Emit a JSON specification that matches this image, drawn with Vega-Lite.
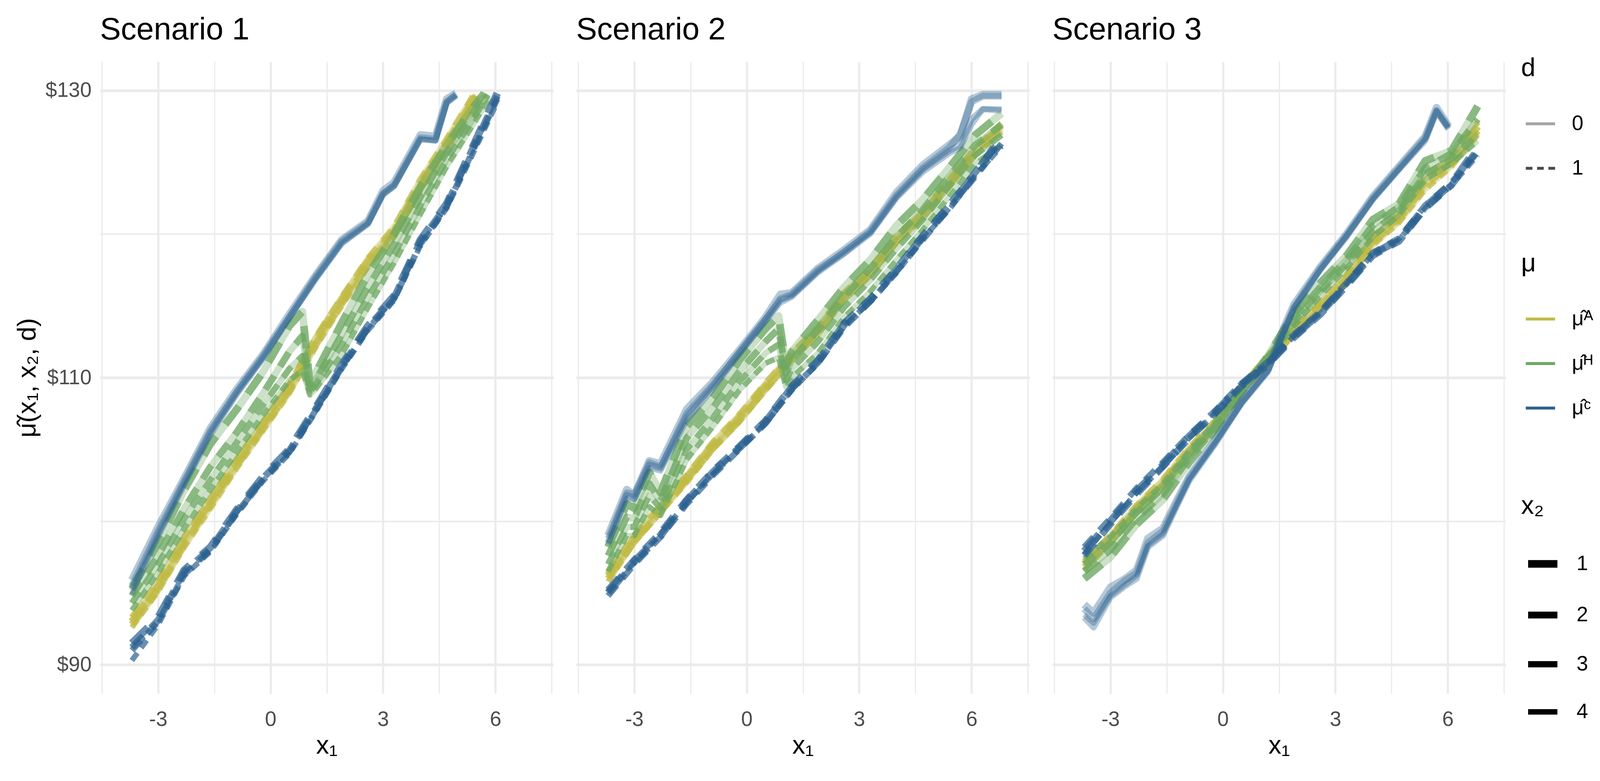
{
"$schema":"https://vega.github.io/schema/vega-lite/v6.json",
"background":"white",
"padding":{"left":37,"top":37,"right":5,"bottom":5},
"datasets":{
"grp":[
{"g":1,"s":1,"m":"A","d":0,"w":1},{"g":2,"s":1,"m":"A","d":0,"w":2},{"g":3,"s":1,"m":"A","d":0,"w":3},{"g":4,"s":1,"m":"A","d":0,"w":4},
{"g":5,"s":1,"m":"A","d":1,"w":1},{"g":6,"s":1,"m":"A","d":1,"w":2},{"g":7,"s":1,"m":"A","d":1,"w":3},{"g":8,"s":1,"m":"A","d":1,"w":4},
{"g":9,"s":1,"m":"H","d":0,"w":1},{"g":10,"s":1,"m":"H","d":0,"w":2},{"g":11,"s":1,"m":"H","d":0,"w":3},{"g":12,"s":1,"m":"H","d":0,"w":4},
{"g":13,"s":1,"m":"H","d":1,"w":1},{"g":14,"s":1,"m":"H","d":1,"w":2},{"g":15,"s":1,"m":"H","d":1,"w":3},{"g":16,"s":1,"m":"H","d":1,"w":4},
{"g":17,"s":1,"m":"C","d":0,"w":1},{"g":18,"s":1,"m":"C","d":0,"w":2},{"g":19,"s":1,"m":"C","d":0,"w":3},{"g":20,"s":1,"m":"C","d":0,"w":4},
{"g":21,"s":1,"m":"C","d":1,"w":1},{"g":22,"s":1,"m":"C","d":1,"w":2},{"g":23,"s":1,"m":"C","d":1,"w":3},{"g":24,"s":1,"m":"C","d":1,"w":4},
{"g":25,"s":2,"m":"A","d":0,"w":1},{"g":26,"s":2,"m":"A","d":0,"w":2},{"g":27,"s":2,"m":"A","d":0,"w":3},{"g":28,"s":2,"m":"A","d":0,"w":4},
{"g":29,"s":2,"m":"A","d":1,"w":1},{"g":30,"s":2,"m":"A","d":1,"w":2},{"g":31,"s":2,"m":"A","d":1,"w":3},{"g":32,"s":2,"m":"A","d":1,"w":4},
{"g":33,"s":2,"m":"H","d":0,"w":1},{"g":34,"s":2,"m":"H","d":0,"w":2},{"g":35,"s":2,"m":"H","d":0,"w":3},{"g":36,"s":2,"m":"H","d":0,"w":4},
{"g":37,"s":2,"m":"H","d":1,"w":1},{"g":38,"s":2,"m":"H","d":1,"w":2},{"g":39,"s":2,"m":"H","d":1,"w":3},{"g":40,"s":2,"m":"H","d":1,"w":4},
{"g":41,"s":2,"m":"C","d":0,"w":1},{"g":42,"s":2,"m":"C","d":0,"w":2},{"g":43,"s":2,"m":"C","d":0,"w":3},{"g":44,"s":2,"m":"C","d":0,"w":4},
{"g":45,"s":2,"m":"C","d":1,"w":1},{"g":46,"s":2,"m":"C","d":1,"w":2},{"g":47,"s":2,"m":"C","d":1,"w":3},{"g":48,"s":2,"m":"C","d":1,"w":4},
{"g":49,"s":3,"m":"A","d":0,"w":1},{"g":50,"s":3,"m":"A","d":0,"w":2},{"g":51,"s":3,"m":"A","d":0,"w":3},{"g":52,"s":3,"m":"A","d":0,"w":4},
{"g":53,"s":3,"m":"A","d":1,"w":1},{"g":54,"s":3,"m":"A","d":1,"w":2},{"g":55,"s":3,"m":"A","d":1,"w":3},{"g":56,"s":3,"m":"A","d":1,"w":4},
{"g":57,"s":3,"m":"H","d":0,"w":1},{"g":58,"s":3,"m":"H","d":0,"w":2},{"g":59,"s":3,"m":"H","d":0,"w":3},{"g":60,"s":3,"m":"H","d":0,"w":4},
{"g":61,"s":3,"m":"H","d":1,"w":1},{"g":62,"s":3,"m":"H","d":1,"w":2},{"g":63,"s":3,"m":"H","d":1,"w":3},{"g":64,"s":3,"m":"H","d":1,"w":4},
{"g":65,"s":3,"m":"C","d":0,"w":1},{"g":66,"s":3,"m":"C","d":0,"w":2},{"g":67,"s":3,"m":"C","d":0,"w":3},{"g":68,"s":3,"m":"C","d":0,"w":4},
{"g":69,"s":3,"m":"C","d":1,"w":1},{"g":70,"s":3,"m":"C","d":1,"w":2},{"g":71,"s":3,"m":"C","d":1,"w":3},{"g":72,"s":3,"m":"C","d":1,"w":4}
],
"pts":[
{"g":1,"x":-3.7,"y":93.0},{"g":1,"x":-3.0,"y":95.5},{"g":1,"x":-2.3,"y":98.7},{"g":1,"x":-1.6,"y":101.4},{"g":1,"x":-0.9,"y":104.1},{"g":1,"x":-0.2,"y":106.7},{"g":1,"x":0.5,"y":109.3},{"g":1,"x":1.2,"y":112.6},{"g":1,"x":1.9,"y":115.4},{"g":1,"x":2.6,"y":118.1},{"g":1,"x":3.3,"y":120.2},{"g":1,"x":4.0,"y":123.5},{"g":1,"x":4.7,"y":126.3},{"g":1,"x":5.4,"y":129.3},{"g":1,"x":5.5,"y":129.7},
{"g":2,"x":-3.7,"y":92.8},{"g":2,"x":-3.0,"y":95.3},{"g":2,"x":-2.3,"y":98.4},{"g":2,"x":-1.6,"y":101.2},{"g":2,"x":-0.9,"y":103.9},{"g":2,"x":-0.2,"y":106.5},{"g":2,"x":0.5,"y":109.1},{"g":2,"x":1.2,"y":112.3},{"g":2,"x":1.9,"y":115.2},{"g":2,"x":2.6,"y":117.9},{"g":2,"x":3.3,"y":120.0},{"g":2,"x":4.0,"y":123.2},{"g":2,"x":4.7,"y":126.1},{"g":2,"x":5.4,"y":129.1},{"g":2,"x":5.5,"y":129.6},
{"g":3,"x":-3.7,"y":93.3},{"g":3,"x":-3.0,"y":95.8},{"g":3,"x":-2.3,"y":98.9},{"g":3,"x":-1.6,"y":101.6},{"g":3,"x":-0.9,"y":104.3},{"g":3,"x":-0.2,"y":106.9},{"g":3,"x":0.5,"y":109.5},{"g":3,"x":1.2,"y":112.8},{"g":3,"x":1.9,"y":115.6},{"g":3,"x":2.6,"y":118.3},{"g":3,"x":3.3,"y":120.5},{"g":3,"x":4.0,"y":123.8},{"g":3,"x":4.7,"y":126.6},{"g":3,"x":5.4,"y":129.6},
{"g":4,"x":-3.7,"y":92.6},{"g":4,"x":-3.0,"y":95.1},{"g":4,"x":-2.3,"y":98.2},{"g":4,"x":-1.6,"y":100.9},{"g":4,"x":-0.9,"y":103.7},{"g":4,"x":-0.2,"y":106.3},{"g":4,"x":0.5,"y":108.9},{"g":4,"x":1.2,"y":112.1},{"g":4,"x":1.9,"y":115.0},{"g":4,"x":2.6,"y":117.7},{"g":4,"x":3.3,"y":119.8},{"g":4,"x":4.0,"y":123.0},{"g":4,"x":4.7,"y":125.9},{"g":4,"x":5.4,"y":128.9},{"g":4,"x":5.5,"y":129.5},
{"g":5,"x":-3.7,"y":93.0},{"g":5,"x":-3.0,"y":95.5},{"g":5,"x":-2.3,"y":98.7},{"g":5,"x":-1.6,"y":101.4},{"g":5,"x":-0.9,"y":104.1},{"g":5,"x":-0.2,"y":106.7},{"g":5,"x":0.5,"y":109.3},{"g":5,"x":1.2,"y":112.6},{"g":5,"x":1.9,"y":115.4},{"g":5,"x":2.6,"y":118.1},{"g":5,"x":3.3,"y":120.2},{"g":5,"x":4.0,"y":123.5},{"g":5,"x":4.7,"y":126.3},{"g":5,"x":5.4,"y":129.3},{"g":5,"x":5.5,"y":129.7},
{"g":6,"x":-3.7,"y":92.8},{"g":6,"x":-3.0,"y":95.3},{"g":6,"x":-2.3,"y":98.4},{"g":6,"x":-1.6,"y":101.2},{"g":6,"x":-0.9,"y":103.9},{"g":6,"x":-0.2,"y":106.5},{"g":6,"x":0.5,"y":109.1},{"g":6,"x":1.2,"y":112.3},{"g":6,"x":1.9,"y":115.2},{"g":6,"x":2.6,"y":117.9},{"g":6,"x":3.3,"y":120.0},{"g":6,"x":4.0,"y":123.2},{"g":6,"x":4.7,"y":126.1},{"g":6,"x":5.4,"y":129.1},{"g":6,"x":5.5,"y":129.6},
{"g":7,"x":-3.7,"y":93.3},{"g":7,"x":-3.0,"y":95.8},{"g":7,"x":-2.3,"y":98.9},{"g":7,"x":-1.6,"y":101.6},{"g":7,"x":-0.9,"y":104.3},{"g":7,"x":-0.2,"y":106.9},{"g":7,"x":0.5,"y":109.5},{"g":7,"x":1.2,"y":112.8},{"g":7,"x":1.9,"y":115.6},{"g":7,"x":2.6,"y":118.3},{"g":7,"x":3.3,"y":120.5},{"g":7,"x":4.0,"y":123.8},{"g":7,"x":4.7,"y":126.6},{"g":7,"x":5.4,"y":129.6},
{"g":8,"x":-3.7,"y":92.6},{"g":8,"x":-3.0,"y":95.1},{"g":8,"x":-2.3,"y":98.2},{"g":8,"x":-1.6,"y":100.9},{"g":8,"x":-0.9,"y":103.7},{"g":8,"x":-0.2,"y":106.3},{"g":8,"x":0.5,"y":108.9},{"g":8,"x":1.2,"y":112.1},{"g":8,"x":1.9,"y":115.0},{"g":8,"x":2.6,"y":117.7},{"g":8,"x":3.3,"y":119.8},{"g":8,"x":4.0,"y":123.0},{"g":8,"x":4.7,"y":125.9},{"g":8,"x":5.4,"y":128.9},{"g":8,"x":5.5,"y":129.5},
{"g":9,"x":-3.7,"y":95.3},{"g":9,"x":-3.0,"y":98.5},{"g":9,"x":-2.3,"y":102.2},{"g":9,"x":-1.6,"y":105.4},{"g":9,"x":-0.9,"y":107.8},{"g":9,"x":-0.2,"y":110.4},{"g":9,"x":0.5,"y":113.6},{"g":9,"x":0.85,"y":114.6},{"g":9,"x":1.05,"y":109.6},{"g":9,"x":1.2,"y":110.3},{"g":9,"x":1.9,"y":113.8},{"g":9,"x":2.6,"y":117.2},{"g":9,"x":3.3,"y":120.0},{"g":9,"x":4.0,"y":123.3},{"g":9,"x":4.7,"y":126.2},{"g":9,"x":5.4,"y":128.8},{"g":9,"x":5.7,"y":129.8},
{"g":10,"x":-3.7,"y":94.8},{"g":10,"x":-3.0,"y":97.6},{"g":10,"x":-2.3,"y":100.9},{"g":10,"x":-1.6,"y":103.8},{"g":10,"x":-0.9,"y":106.2},{"g":10,"x":-0.2,"y":108.9},{"g":10,"x":0.5,"y":111.8},{"g":10,"x":0.85,"y":112.9},{"g":10,"x":1.05,"y":109.2},{"g":10,"x":1.2,"y":109.8},{"g":10,"x":1.9,"y":113.0},{"g":10,"x":2.6,"y":116.3},{"g":10,"x":3.3,"y":119.3},{"g":10,"x":4.0,"y":122.6},{"g":10,"x":4.7,"y":125.7},{"g":10,"x":5.4,"y":128.4},{"g":10,"x":5.75,"y":129.8},
{"g":11,"x":-3.7,"y":94.3},{"g":11,"x":-3.0,"y":97.0},{"g":11,"x":-2.3,"y":100.2},{"g":11,"x":-1.6,"y":102.9},{"g":11,"x":-0.9,"y":105.5},{"g":11,"x":-0.2,"y":108.1},{"g":11,"x":0.5,"y":110.6},{"g":11,"x":0.85,"y":111.5},{"g":11,"x":1.05,"y":109.0},{"g":11,"x":1.2,"y":109.5},{"g":11,"x":1.9,"y":112.3},{"g":11,"x":2.6,"y":115.6},{"g":11,"x":3.3,"y":118.6},{"g":11,"x":4.0,"y":122.0},{"g":11,"x":4.7,"y":125.2},{"g":11,"x":5.4,"y":128.0},{"g":11,"x":5.8,"y":129.7},
{"g":12,"x":-3.7,"y":93.8},{"g":12,"x":-3.0,"y":96.4},{"g":12,"x":-2.3,"y":99.5},{"g":12,"x":-1.6,"y":102.2},{"g":12,"x":-0.9,"y":104.8},{"g":12,"x":-0.2,"y":107.4},{"g":12,"x":0.5,"y":109.8},{"g":12,"x":0.85,"y":110.5},{"g":12,"x":1.05,"y":108.8},{"g":12,"x":1.2,"y":109.2},{"g":12,"x":1.9,"y":111.6},{"g":12,"x":2.6,"y":114.9},{"g":12,"x":3.3,"y":118.0},{"g":12,"x":4.0,"y":121.4},{"g":12,"x":4.7,"y":124.7},{"g":12,"x":5.4,"y":127.6},{"g":12,"x":5.85,"y":129.5},
{"g":13,"x":-3.7,"y":95.3},{"g":13,"x":-3.0,"y":98.5},{"g":13,"x":-2.3,"y":102.2},{"g":13,"x":-1.6,"y":105.4},{"g":13,"x":-0.9,"y":107.8},{"g":13,"x":-0.2,"y":110.4},{"g":13,"x":0.5,"y":113.6},{"g":13,"x":0.85,"y":114.6},{"g":13,"x":1.05,"y":109.6},{"g":13,"x":1.2,"y":110.3},{"g":13,"x":1.9,"y":113.8},{"g":13,"x":2.6,"y":117.2},{"g":13,"x":3.3,"y":120.0},{"g":13,"x":4.0,"y":123.3},{"g":13,"x":4.7,"y":126.2},{"g":13,"x":5.4,"y":128.8},{"g":13,"x":5.7,"y":129.8},
{"g":14,"x":-3.7,"y":94.8},{"g":14,"x":-3.0,"y":97.6},{"g":14,"x":-2.3,"y":100.9},{"g":14,"x":-1.6,"y":103.8},{"g":14,"x":-0.9,"y":106.2},{"g":14,"x":-0.2,"y":108.9},{"g":14,"x":0.5,"y":111.8},{"g":14,"x":0.85,"y":112.9},{"g":14,"x":1.05,"y":109.2},{"g":14,"x":1.2,"y":109.8},{"g":14,"x":1.9,"y":113.0},{"g":14,"x":2.6,"y":116.3},{"g":14,"x":3.3,"y":119.3},{"g":14,"x":4.0,"y":122.6},{"g":14,"x":4.7,"y":125.7},{"g":14,"x":5.4,"y":128.4},{"g":14,"x":5.75,"y":129.8},
{"g":15,"x":-3.7,"y":94.3},{"g":15,"x":-3.0,"y":97.0},{"g":15,"x":-2.3,"y":100.2},{"g":15,"x":-1.6,"y":102.9},{"g":15,"x":-0.9,"y":105.5},{"g":15,"x":-0.2,"y":108.1},{"g":15,"x":0.5,"y":110.6},{"g":15,"x":0.85,"y":111.5},{"g":15,"x":1.05,"y":109.0},{"g":15,"x":1.2,"y":109.5},{"g":15,"x":1.9,"y":112.3},{"g":15,"x":2.6,"y":115.6},{"g":15,"x":3.3,"y":118.6},{"g":15,"x":4.0,"y":122.0},{"g":15,"x":4.7,"y":125.2},{"g":15,"x":5.4,"y":128.0},{"g":15,"x":5.8,"y":129.7},
{"g":16,"x":-3.7,"y":93.8},{"g":16,"x":-3.0,"y":96.4},{"g":16,"x":-2.3,"y":99.5},{"g":16,"x":-1.6,"y":102.2},{"g":16,"x":-0.9,"y":104.8},{"g":16,"x":-0.2,"y":107.4},{"g":16,"x":0.5,"y":109.8},{"g":16,"x":0.85,"y":110.5},{"g":16,"x":1.05,"y":108.8},{"g":16,"x":1.2,"y":109.2},{"g":16,"x":1.9,"y":111.6},{"g":16,"x":2.6,"y":114.9},{"g":16,"x":3.3,"y":118.0},{"g":16,"x":4.0,"y":121.4},{"g":16,"x":4.7,"y":124.7},{"g":16,"x":5.4,"y":127.6},{"g":16,"x":5.85,"y":129.5},
{"g":17,"x":-3.7,"y":95.9},{"g":17,"x":-3.0,"y":99.6},{"g":17,"x":-2.3,"y":103.0},{"g":17,"x":-1.6,"y":106.5},{"g":17,"x":-0.9,"y":109.2},{"g":17,"x":-0.2,"y":111.6},{"g":17,"x":0.5,"y":114.4},{"g":17,"x":1.2,"y":117.1},{"g":17,"x":1.9,"y":119.6},{"g":17,"x":2.6,"y":120.9},{"g":17,"x":3.0,"y":123.0},{"g":17,"x":3.3,"y":123.6},{"g":17,"x":4.0,"y":126.9},{"g":17,"x":4.4,"y":126.8},{"g":17,"x":4.7,"y":129.4},{"g":17,"x":4.95,"y":129.8},
{"g":18,"x":-3.7,"y":95.5},{"g":18,"x":-3.0,"y":99.3},{"g":18,"x":-2.3,"y":102.8},{"g":18,"x":-1.6,"y":106.3},{"g":18,"x":-0.9,"y":109.0},{"g":18,"x":-0.2,"y":111.5},{"g":18,"x":0.5,"y":114.2},{"g":18,"x":1.2,"y":117.0},{"g":18,"x":1.9,"y":119.5},{"g":18,"x":2.6,"y":120.8},{"g":18,"x":3.0,"y":122.8},{"g":18,"x":3.3,"y":123.4},{"g":18,"x":4.0,"y":126.7},{"g":18,"x":4.4,"y":126.6},{"g":18,"x":4.7,"y":129.2},{"g":18,"x":4.95,"y":129.7},
{"g":19,"x":-3.7,"y":95.2},{"g":19,"x":-3.0,"y":99.1},{"g":19,"x":-2.3,"y":102.7},{"g":19,"x":-1.6,"y":106.2},{"g":19,"x":-0.9,"y":109.0},{"g":19,"x":-0.2,"y":111.4},{"g":19,"x":0.5,"y":114.2},{"g":19,"x":1.2,"y":116.9},{"g":19,"x":1.9,"y":119.4},{"g":19,"x":2.6,"y":120.7},{"g":19,"x":3.0,"y":122.8},{"g":19,"x":3.3,"y":123.4},{"g":19,"x":4.0,"y":126.6},{"g":19,"x":4.4,"y":126.5},{"g":19,"x":4.7,"y":129.2},{"g":19,"x":4.95,"y":129.7},
{"g":20,"x":-3.7,"y":94.9},{"g":20,"x":-3.0,"y":98.9},{"g":20,"x":-2.3,"y":102.5},{"g":20,"x":-1.6,"y":106.0},{"g":20,"x":-0.9,"y":108.8},{"g":20,"x":-0.2,"y":111.3},{"g":20,"x":0.5,"y":114.1},{"g":20,"x":1.2,"y":116.8},{"g":20,"x":1.9,"y":119.3},{"g":20,"x":2.6,"y":120.7},{"g":20,"x":3.0,"y":122.7},{"g":20,"x":3.3,"y":123.3},{"g":20,"x":4.0,"y":126.6},{"g":20,"x":4.4,"y":126.5},{"g":20,"x":4.7,"y":129.1},{"g":20,"x":4.95,"y":129.6},
{"g":21,"x":-3.7,"y":91.5},{"g":21,"x":-3.0,"y":93.3},{"g":21,"x":-2.3,"y":96.6},{"g":21,"x":-1.6,"y":98.2},{"g":21,"x":-0.9,"y":100.8},{"g":21,"x":-0.2,"y":103.1},{"g":21,"x":0.5,"y":105.0},{"g":21,"x":1.2,"y":107.9},{"g":21,"x":1.9,"y":110.9},{"g":21,"x":2.6,"y":113.6},{"g":21,"x":3.3,"y":115.7},{"g":21,"x":4.0,"y":119.6},{"g":21,"x":4.7,"y":122.1},{"g":21,"x":5.4,"y":126.1},{"g":21,"x":6.05,"y":129.8},
{"g":22,"x":-3.7,"y":91.2},{"g":22,"x":-3.0,"y":93.1},{"g":22,"x":-2.3,"y":96.5},{"g":22,"x":-1.6,"y":98.1},{"g":22,"x":-0.9,"y":100.7},{"g":22,"x":-0.2,"y":103.0},{"g":22,"x":0.5,"y":104.9},{"g":22,"x":1.2,"y":107.8},{"g":22,"x":1.9,"y":110.8},{"g":22,"x":2.6,"y":113.5},{"g":22,"x":3.3,"y":115.6},{"g":22,"x":4.0,"y":119.5},{"g":22,"x":4.7,"y":122.0},{"g":22,"x":5.4,"y":126.0},{"g":22,"x":6.05,"y":129.6},
{"g":23,"x":-3.7,"y":91.0},{"g":23,"x":-3.0,"y":93.0},{"g":23,"x":-2.3,"y":96.3},{"g":23,"x":-1.6,"y":98.0},{"g":23,"x":-0.9,"y":100.6},{"g":23,"x":-0.2,"y":102.9},{"g":23,"x":0.5,"y":104.8},{"g":23,"x":1.2,"y":107.7},{"g":23,"x":1.9,"y":110.7},{"g":23,"x":2.6,"y":113.4},{"g":23,"x":3.3,"y":115.5},{"g":23,"x":4.0,"y":119.3},{"g":23,"x":4.7,"y":121.9},{"g":23,"x":5.4,"y":125.8},{"g":23,"x":6.05,"y":129.4},
{"g":24,"x":-3.7,"y":90.3},{"g":24,"x":-3.0,"y":92.8},{"g":24,"x":-2.3,"y":96.2},{"g":24,"x":-1.6,"y":97.9},{"g":24,"x":-0.9,"y":100.5},{"g":24,"x":-0.2,"y":102.8},{"g":24,"x":0.5,"y":104.7},{"g":24,"x":1.2,"y":107.6},{"g":24,"x":1.9,"y":110.6},{"g":24,"x":2.6,"y":113.3},{"g":24,"x":3.3,"y":115.4},{"g":24,"x":4.0,"y":119.2},{"g":24,"x":4.7,"y":121.8},{"g":24,"x":5.4,"y":125.6},{"g":24,"x":6.05,"y":129.2},
{"g":25,"x":-3.7,"y":96.2},{"g":25,"x":-3.0,"y":98.8},{"g":25,"x":-2.3,"y":100.9},{"g":25,"x":-1.6,"y":103.0},{"g":25,"x":-0.9,"y":105.3},{"g":25,"x":-0.2,"y":107.2},{"g":25,"x":0.5,"y":109.4},{"g":25,"x":1.2,"y":111.5},{"g":25,"x":1.9,"y":113.3},{"g":25,"x":2.6,"y":115.7},{"g":25,"x":3.3,"y":117.4},{"g":25,"x":4.0,"y":119.7},{"g":25,"x":4.7,"y":121.4},{"g":25,"x":5.4,"y":123.6},{"g":25,"x":6.1,"y":125.8},{"g":25,"x":6.8,"y":127.5},
{"g":26,"x":-3.7,"y":96.0},{"g":26,"x":-3.0,"y":98.6},{"g":26,"x":-2.3,"y":100.7},{"g":26,"x":-1.6,"y":102.9},{"g":26,"x":-0.9,"y":105.1},{"g":26,"x":-0.2,"y":107.0},{"g":26,"x":0.5,"y":109.2},{"g":26,"x":1.2,"y":111.3},{"g":26,"x":1.9,"y":113.1},{"g":26,"x":2.6,"y":115.5},{"g":26,"x":3.3,"y":117.2},{"g":26,"x":4.0,"y":119.5},{"g":26,"x":4.7,"y":121.2},{"g":26,"x":5.4,"y":123.4},{"g":26,"x":6.1,"y":125.6},{"g":26,"x":6.8,"y":127.3},
{"g":27,"x":-3.7,"y":96.4},{"g":27,"x":-3.0,"y":99.0},{"g":27,"x":-2.3,"y":101.1},{"g":27,"x":-1.6,"y":103.2},{"g":27,"x":-0.9,"y":105.5},{"g":27,"x":-0.2,"y":107.4},{"g":27,"x":0.5,"y":109.6},{"g":27,"x":1.2,"y":111.7},{"g":27,"x":1.9,"y":113.5},{"g":27,"x":2.6,"y":115.9},{"g":27,"x":3.3,"y":117.6},{"g":27,"x":4.0,"y":119.9},{"g":27,"x":4.7,"y":121.6},{"g":27,"x":5.4,"y":123.8},{"g":27,"x":6.1,"y":126.0},{"g":27,"x":6.8,"y":127.7},
{"g":28,"x":-3.7,"y":95.8},{"g":28,"x":-3.0,"y":98.5},{"g":28,"x":-2.3,"y":100.6},{"g":28,"x":-1.6,"y":102.7},{"g":28,"x":-0.9,"y":105.0},{"g":28,"x":-0.2,"y":106.9},{"g":28,"x":0.5,"y":109.1},{"g":28,"x":1.2,"y":111.2},{"g":28,"x":1.9,"y":113.0},{"g":28,"x":2.6,"y":115.4},{"g":28,"x":3.3,"y":117.1},{"g":28,"x":4.0,"y":119.4},{"g":28,"x":4.7,"y":121.1},{"g":28,"x":5.4,"y":123.3},{"g":28,"x":6.1,"y":125.5},{"g":28,"x":6.8,"y":127.1},
{"g":29,"x":-3.7,"y":96.2},{"g":29,"x":-3.0,"y":98.8},{"g":29,"x":-2.3,"y":100.9},{"g":29,"x":-1.6,"y":103.0},{"g":29,"x":-0.9,"y":105.3},{"g":29,"x":-0.2,"y":107.2},{"g":29,"x":0.5,"y":109.4},{"g":29,"x":1.2,"y":111.5},{"g":29,"x":1.9,"y":113.3},{"g":29,"x":2.6,"y":115.7},{"g":29,"x":3.3,"y":117.4},{"g":29,"x":4.0,"y":119.7},{"g":29,"x":4.7,"y":121.4},{"g":29,"x":5.4,"y":123.6},{"g":29,"x":6.1,"y":125.8},{"g":29,"x":6.8,"y":127.5},
{"g":30,"x":-3.7,"y":96.0},{"g":30,"x":-3.0,"y":98.6},{"g":30,"x":-2.3,"y":100.7},{"g":30,"x":-1.6,"y":102.9},{"g":30,"x":-0.9,"y":105.1},{"g":30,"x":-0.2,"y":107.0},{"g":30,"x":0.5,"y":109.2},{"g":30,"x":1.2,"y":111.3},{"g":30,"x":1.9,"y":113.1},{"g":30,"x":2.6,"y":115.5},{"g":30,"x":3.3,"y":117.2},{"g":30,"x":4.0,"y":119.5},{"g":30,"x":4.7,"y":121.2},{"g":30,"x":5.4,"y":123.4},{"g":30,"x":6.1,"y":125.6},{"g":30,"x":6.8,"y":127.3},
{"g":31,"x":-3.7,"y":96.4},{"g":31,"x":-3.0,"y":99.0},{"g":31,"x":-2.3,"y":101.1},{"g":31,"x":-1.6,"y":103.2},{"g":31,"x":-0.9,"y":105.5},{"g":31,"x":-0.2,"y":107.4},{"g":31,"x":0.5,"y":109.6},{"g":31,"x":1.2,"y":111.7},{"g":31,"x":1.9,"y":113.5},{"g":31,"x":2.6,"y":115.9},{"g":31,"x":3.3,"y":117.6},{"g":31,"x":4.0,"y":119.9},{"g":31,"x":4.7,"y":121.6},{"g":31,"x":5.4,"y":123.8},{"g":31,"x":6.1,"y":126.0},{"g":31,"x":6.8,"y":127.7},
{"g":32,"x":-3.7,"y":95.8},{"g":32,"x":-3.0,"y":98.5},{"g":32,"x":-2.3,"y":100.6},{"g":32,"x":-1.6,"y":102.7},{"g":32,"x":-0.9,"y":105.0},{"g":32,"x":-0.2,"y":106.9},{"g":32,"x":0.5,"y":109.1},{"g":32,"x":1.2,"y":111.2},{"g":32,"x":1.9,"y":113.0},{"g":32,"x":2.6,"y":115.4},{"g":32,"x":3.3,"y":117.1},{"g":32,"x":4.0,"y":119.4},{"g":32,"x":4.7,"y":121.1},{"g":32,"x":5.4,"y":123.3},{"g":32,"x":6.1,"y":125.5},{"g":32,"x":6.8,"y":127.1},
{"g":33,"x":-3.7,"y":98.2},{"g":33,"x":-3.2,"y":101.2},{"g":33,"x":-3.0,"y":100.9},{"g":33,"x":-2.6,"y":103.4},{"g":33,"x":-2.3,"y":102.0},{"g":33,"x":-1.6,"y":106.6},{"g":33,"x":-0.9,"y":108.6},{"g":33,"x":-0.2,"y":111.2},{"g":33,"x":0.5,"y":113.4},{"g":33,"x":0.85,"y":114.3},{"g":33,"x":1.05,"y":110.8},{"g":33,"x":1.2,"y":111.8},{"g":33,"x":1.9,"y":114.0},{"g":33,"x":2.6,"y":116.3},{"g":33,"x":3.3,"y":118.2},{"g":33,"x":4.0,"y":120.6},{"g":33,"x":4.7,"y":122.4},{"g":33,"x":5.4,"y":124.6},{"g":33,"x":6.1,"y":126.9},{"g":33,"x":6.8,"y":128.4},
{"g":34,"x":-3.7,"y":97.6},{"g":34,"x":-3.2,"y":100.3},{"g":34,"x":-3.0,"y":100.2},{"g":34,"x":-2.6,"y":102.6},{"g":34,"x":-2.3,"y":101.4},{"g":34,"x":-1.6,"y":105.8},{"g":34,"x":-0.9,"y":107.9},{"g":34,"x":-0.2,"y":110.4},{"g":34,"x":0.5,"y":112.5},{"g":34,"x":0.85,"y":113.4},{"g":34,"x":1.05,"y":110.3},{"g":34,"x":1.2,"y":111.2},{"g":34,"x":1.9,"y":113.3},{"g":34,"x":2.6,"y":115.6},{"g":34,"x":3.3,"y":117.6},{"g":34,"x":4.0,"y":119.8},{"g":34,"x":4.7,"y":121.7},{"g":34,"x":5.4,"y":124.0},{"g":34,"x":6.1,"y":126.2},{"g":34,"x":6.8,"y":127.6},
{"g":35,"x":-3.7,"y":97.0},{"g":35,"x":-3.2,"y":99.6},{"g":35,"x":-3.0,"y":99.6},{"g":35,"x":-2.6,"y":101.8},{"g":35,"x":-2.3,"y":100.9},{"g":35,"x":-1.6,"y":105.0},{"g":35,"x":-0.9,"y":107.2},{"g":35,"x":-0.2,"y":109.7},{"g":35,"x":0.5,"y":111.7},{"g":35,"x":0.85,"y":112.3},{"g":35,"x":1.05,"y":109.8},{"g":35,"x":1.2,"y":110.6},{"g":35,"x":1.9,"y":112.5},{"g":35,"x":2.6,"y":114.9},{"g":35,"x":3.3,"y":116.8},{"g":35,"x":4.0,"y":119.0},{"g":35,"x":4.7,"y":121.0},{"g":35,"x":5.4,"y":123.3},{"g":35,"x":6.1,"y":125.5},{"g":35,"x":6.8,"y":126.9},
{"g":36,"x":-3.7,"y":96.5},{"g":36,"x":-3.2,"y":99.0},{"g":36,"x":-3.0,"y":99.0},{"g":36,"x":-2.6,"y":101.0},{"g":36,"x":-2.3,"y":100.4},{"g":36,"x":-1.6,"y":104.3},{"g":36,"x":-0.9,"y":106.6},{"g":36,"x":-0.2,"y":109.1},{"g":36,"x":0.5,"y":111.0},{"g":36,"x":0.85,"y":111.4},{"g":36,"x":1.05,"y":109.3},{"g":36,"x":1.2,"y":110.0},{"g":36,"x":1.9,"y":111.7},{"g":36,"x":2.6,"y":114.2},{"g":36,"x":3.3,"y":116.0},{"g":36,"x":4.0,"y":118.2},{"g":36,"x":4.7,"y":120.3},{"g":36,"x":5.4,"y":122.6},{"g":36,"x":6.1,"y":124.9},{"g":36,"x":6.8,"y":126.2},
{"g":37,"x":-3.7,"y":98.2},{"g":37,"x":-3.2,"y":101.2},{"g":37,"x":-3.0,"y":100.9},{"g":37,"x":-2.6,"y":103.4},{"g":37,"x":-2.3,"y":102.0},{"g":37,"x":-1.6,"y":106.6},{"g":37,"x":-0.9,"y":108.6},{"g":37,"x":-0.2,"y":111.2},{"g":37,"x":0.5,"y":113.4},{"g":37,"x":0.85,"y":114.3},{"g":37,"x":1.05,"y":110.8},{"g":37,"x":1.2,"y":111.8},{"g":37,"x":1.9,"y":114.0},{"g":37,"x":2.6,"y":116.3},{"g":37,"x":3.3,"y":118.2},{"g":37,"x":4.0,"y":120.6},{"g":37,"x":4.7,"y":122.4},{"g":37,"x":5.4,"y":124.6},{"g":37,"x":6.1,"y":126.9},{"g":37,"x":6.8,"y":128.4},
{"g":38,"x":-3.7,"y":97.6},{"g":38,"x":-3.2,"y":100.3},{"g":38,"x":-3.0,"y":100.2},{"g":38,"x":-2.6,"y":102.6},{"g":38,"x":-2.3,"y":101.4},{"g":38,"x":-1.6,"y":105.8},{"g":38,"x":-0.9,"y":107.9},{"g":38,"x":-0.2,"y":110.4},{"g":38,"x":0.5,"y":112.5},{"g":38,"x":0.85,"y":113.4},{"g":38,"x":1.05,"y":110.3},{"g":38,"x":1.2,"y":111.2},{"g":38,"x":1.9,"y":113.3},{"g":38,"x":2.6,"y":115.6},{"g":38,"x":3.3,"y":117.6},{"g":38,"x":4.0,"y":119.8},{"g":38,"x":4.7,"y":121.7},{"g":38,"x":5.4,"y":124.0},{"g":38,"x":6.1,"y":126.2},{"g":38,"x":6.8,"y":127.6},
{"g":39,"x":-3.7,"y":97.0},{"g":39,"x":-3.2,"y":99.6},{"g":39,"x":-3.0,"y":99.6},{"g":39,"x":-2.6,"y":101.8},{"g":39,"x":-2.3,"y":100.9},{"g":39,"x":-1.6,"y":105.0},{"g":39,"x":-0.9,"y":107.2},{"g":39,"x":-0.2,"y":109.7},{"g":39,"x":0.5,"y":111.7},{"g":39,"x":0.85,"y":112.3},{"g":39,"x":1.05,"y":109.8},{"g":39,"x":1.2,"y":110.6},{"g":39,"x":1.9,"y":112.5},{"g":39,"x":2.6,"y":114.9},{"g":39,"x":3.3,"y":116.8},{"g":39,"x":4.0,"y":119.0},{"g":39,"x":4.7,"y":121.0},{"g":39,"x":5.4,"y":123.3},{"g":39,"x":6.1,"y":125.5},{"g":39,"x":6.8,"y":126.9},
{"g":40,"x":-3.7,"y":96.5},{"g":40,"x":-3.2,"y":99.0},{"g":40,"x":-3.0,"y":99.0},{"g":40,"x":-2.6,"y":101.0},{"g":40,"x":-2.3,"y":100.4},{"g":40,"x":-1.6,"y":104.3},{"g":40,"x":-0.9,"y":106.6},{"g":40,"x":-0.2,"y":109.1},{"g":40,"x":0.5,"y":111.0},{"g":40,"x":0.85,"y":111.4},{"g":40,"x":1.05,"y":109.3},{"g":40,"x":1.2,"y":110.0},{"g":40,"x":1.9,"y":111.7},{"g":40,"x":2.6,"y":114.2},{"g":40,"x":3.3,"y":116.0},{"g":40,"x":4.0,"y":118.2},{"g":40,"x":4.7,"y":120.3},{"g":40,"x":5.4,"y":122.6},{"g":40,"x":6.1,"y":124.9},{"g":40,"x":6.8,"y":126.2},
{"g":41,"x":-3.7,"y":99.0},{"g":41,"x":-3.2,"y":102.2},{"g":41,"x":-3.0,"y":101.8},{"g":41,"x":-2.6,"y":104.2},{"g":41,"x":-2.3,"y":104.0},{"g":41,"x":-1.6,"y":107.8},{"g":41,"x":-0.9,"y":109.7},{"g":41,"x":-0.2,"y":111.9},{"g":41,"x":0.5,"y":114.2},{"g":41,"x":0.9,"y":115.8},{"g":41,"x":1.2,"y":115.9},{"g":41,"x":1.9,"y":117.6},{"g":41,"x":2.6,"y":118.9},{"g":41,"x":3.3,"y":120.3},{"g":41,"x":4.0,"y":122.9},{"g":41,"x":4.7,"y":124.8},{"g":41,"x":5.4,"y":126.2},{"g":41,"x":5.7,"y":126.8},{"g":41,"x":6.0,"y":129.4},{"g":41,"x":6.3,"y":129.7},{"g":41,"x":6.8,"y":129.7},
{"g":42,"x":-3.7,"y":98.5},{"g":42,"x":-3.2,"y":101.8},{"g":42,"x":-3.0,"y":101.6},{"g":42,"x":-2.6,"y":103.9},{"g":42,"x":-2.3,"y":103.7},{"g":42,"x":-1.6,"y":107.5},{"g":42,"x":-0.9,"y":109.5},{"g":42,"x":-0.2,"y":111.7},{"g":42,"x":0.5,"y":114.0},{"g":42,"x":0.9,"y":115.5},{"g":42,"x":1.2,"y":115.8},{"g":42,"x":1.9,"y":117.5},{"g":42,"x":2.6,"y":118.7},{"g":42,"x":3.3,"y":120.2},{"g":42,"x":4.0,"y":122.7},{"g":42,"x":4.7,"y":124.6},{"g":42,"x":5.4,"y":126.0},{"g":42,"x":5.7,"y":127.0},{"g":42,"x":6.0,"y":129.2},{"g":42,"x":6.3,"y":129.6},{"g":42,"x":6.8,"y":129.6},
{"g":43,"x":-3.7,"y":98.8},{"g":43,"x":-3.2,"y":102.0},{"g":43,"x":-3.0,"y":101.9},{"g":43,"x":-2.6,"y":104.1},{"g":43,"x":-2.3,"y":103.8},{"g":43,"x":-1.6,"y":107.3},{"g":43,"x":-0.9,"y":109.4},{"g":43,"x":-0.2,"y":111.8},{"g":43,"x":0.5,"y":114.1},{"g":43,"x":0.9,"y":115.4},{"g":43,"x":1.2,"y":115.7},{"g":43,"x":1.9,"y":117.4},{"g":43,"x":2.6,"y":118.8},{"g":43,"x":3.3,"y":120.1},{"g":43,"x":4.0,"y":122.6},{"g":43,"x":4.7,"y":124.5},{"g":43,"x":5.4,"y":125.8},{"g":43,"x":5.7,"y":126.2},{"g":43,"x":6.0,"y":128.0},{"g":43,"x":6.3,"y":128.7},{"g":43,"x":6.8,"y":128.6},
{"g":44,"x":-3.7,"y":98.4},{"g":44,"x":-3.2,"y":101.6},{"g":44,"x":-3.0,"y":101.5},{"g":44,"x":-2.6,"y":103.7},{"g":44,"x":-2.3,"y":103.5},{"g":44,"x":-1.6,"y":107.0},{"g":44,"x":-0.9,"y":109.2},{"g":44,"x":-0.2,"y":111.6},{"g":44,"x":0.5,"y":113.9},{"g":44,"x":0.9,"y":115.2},{"g":44,"x":1.2,"y":115.6},{"g":44,"x":1.9,"y":117.3},{"g":44,"x":2.6,"y":118.6},{"g":44,"x":3.3,"y":120.0},{"g":44,"x":4.0,"y":122.5},{"g":44,"x":4.7,"y":124.3},{"g":44,"x":5.4,"y":125.6},{"g":44,"x":5.7,"y":126.0},{"g":44,"x":6.0,"y":127.6},{"g":44,"x":6.3,"y":128.7},{"g":44,"x":6.8,"y":128.7},
{"g":45,"x":-3.7,"y":95.0},{"g":45,"x":-3.0,"y":97.2},{"g":45,"x":-2.3,"y":99.0},{"g":45,"x":-1.6,"y":101.4},{"g":45,"x":-0.9,"y":103.4},{"g":45,"x":-0.2,"y":105.1},{"g":45,"x":0.5,"y":106.9},{"g":45,"x":1.2,"y":109.3},{"g":45,"x":1.9,"y":111.1},{"g":45,"x":2.6,"y":113.7},{"g":45,"x":3.3,"y":115.4},{"g":45,"x":4.0,"y":117.5},{"g":45,"x":4.7,"y":119.8},{"g":45,"x":5.4,"y":121.9},{"g":45,"x":6.1,"y":124.2},{"g":45,"x":6.8,"y":126.8},
{"g":46,"x":-3.7,"y":95.2},{"g":46,"x":-3.0,"y":97.3},{"g":46,"x":-2.3,"y":99.2},{"g":46,"x":-1.6,"y":101.5},{"g":46,"x":-0.9,"y":103.5},{"g":46,"x":-0.2,"y":105.2},{"g":46,"x":0.5,"y":107.0},{"g":46,"x":1.2,"y":109.4},{"g":46,"x":1.9,"y":111.2},{"g":46,"x":2.6,"y":113.8},{"g":46,"x":3.3,"y":115.5},{"g":46,"x":4.0,"y":117.6},{"g":46,"x":4.7,"y":119.9},{"g":46,"x":5.4,"y":122.0},{"g":46,"x":6.1,"y":124.3},{"g":46,"x":6.8,"y":126.6},
{"g":47,"x":-3.7,"y":94.8},{"g":47,"x":-3.0,"y":97.0},{"g":47,"x":-2.3,"y":98.9},{"g":47,"x":-1.6,"y":101.2},{"g":47,"x":-0.9,"y":103.2},{"g":47,"x":-0.2,"y":105.0},{"g":47,"x":0.5,"y":106.8},{"g":47,"x":1.2,"y":109.2},{"g":47,"x":1.9,"y":111.0},{"g":47,"x":2.6,"y":113.5},{"g":47,"x":3.3,"y":115.3},{"g":47,"x":4.0,"y":117.4},{"g":47,"x":4.7,"y":119.6},{"g":47,"x":5.4,"y":121.8},{"g":47,"x":6.1,"y":124.0},{"g":47,"x":6.8,"y":126.3},
{"g":48,"x":-3.7,"y":95.1},{"g":48,"x":-3.0,"y":97.1},{"g":48,"x":-2.3,"y":99.1},{"g":48,"x":-1.6,"y":101.3},{"g":48,"x":-0.9,"y":103.3},{"g":48,"x":-0.2,"y":105.1},{"g":48,"x":0.5,"y":106.8},{"g":48,"x":1.2,"y":109.1},{"g":48,"x":1.9,"y":111.0},{"g":48,"x":2.6,"y":113.6},{"g":48,"x":3.3,"y":115.3},{"g":48,"x":4.0,"y":117.3},{"g":48,"x":4.7,"y":119.7},{"g":48,"x":5.4,"y":121.7},{"g":48,"x":6.1,"y":124.1},{"g":48,"x":6.8,"y":126.1},
{"g":49,"x":-3.7,"y":97.0},{"g":49,"x":-3.0,"y":98.8},{"g":49,"x":-2.3,"y":100.9},{"g":49,"x":-1.6,"y":102.7},{"g":49,"x":-0.9,"y":104.9},{"g":49,"x":-0.2,"y":106.8},{"g":49,"x":0.5,"y":109.3},{"g":49,"x":1.2,"y":111.3},{"g":49,"x":1.9,"y":113.3},{"g":49,"x":2.6,"y":115.0},{"g":49,"x":3.3,"y":116.9},{"g":49,"x":4.0,"y":119.6},{"g":49,"x":4.7,"y":121.2},{"g":49,"x":5.4,"y":123.7},{"g":49,"x":6.1,"y":125.1},{"g":49,"x":6.8,"y":127.5},
{"g":50,"x":-3.7,"y":96.8},{"g":50,"x":-3.0,"y":98.6},{"g":50,"x":-2.3,"y":100.7},{"g":50,"x":-1.6,"y":102.5},{"g":50,"x":-0.9,"y":104.7},{"g":50,"x":-0.2,"y":106.6},{"g":50,"x":0.5,"y":109.1},{"g":50,"x":1.2,"y":111.1},{"g":50,"x":1.9,"y":113.1},{"g":50,"x":2.6,"y":114.8},{"g":50,"x":3.3,"y":116.7},{"g":50,"x":4.0,"y":119.4},{"g":50,"x":4.7,"y":121.0},{"g":50,"x":5.4,"y":123.4},{"g":50,"x":6.1,"y":124.9},{"g":50,"x":6.8,"y":127.2},
{"g":51,"x":-3.7,"y":97.2},{"g":51,"x":-3.0,"y":99.0},{"g":51,"x":-2.3,"y":101.1},{"g":51,"x":-1.6,"y":102.9},{"g":51,"x":-0.9,"y":105.1},{"g":51,"x":-0.2,"y":107.0},{"g":51,"x":0.5,"y":109.4},{"g":51,"x":1.2,"y":111.5},{"g":51,"x":1.9,"y":113.5},{"g":51,"x":2.6,"y":115.2},{"g":51,"x":3.3,"y":117.1},{"g":51,"x":4.0,"y":119.8},{"g":51,"x":4.7,"y":121.4},{"g":51,"x":5.4,"y":124.0},{"g":51,"x":6.1,"y":125.4},{"g":51,"x":6.8,"y":127.8},
{"g":52,"x":-3.7,"y":96.6},{"g":52,"x":-3.0,"y":98.5},{"g":52,"x":-2.3,"y":100.6},{"g":52,"x":-1.6,"y":102.4},{"g":52,"x":-0.9,"y":104.6},{"g":52,"x":-0.2,"y":106.5},{"g":52,"x":0.5,"y":109.0},{"g":52,"x":1.2,"y":111.0},{"g":52,"x":1.9,"y":113.0},{"g":52,"x":2.6,"y":114.7},{"g":52,"x":3.3,"y":116.6},{"g":52,"x":4.0,"y":119.2},{"g":52,"x":4.7,"y":120.8},{"g":52,"x":5.4,"y":123.1},{"g":52,"x":6.1,"y":124.7},{"g":52,"x":6.8,"y":126.9},
{"g":53,"x":-3.7,"y":97.0},{"g":53,"x":-3.0,"y":98.8},{"g":53,"x":-2.3,"y":100.9},{"g":53,"x":-1.6,"y":102.7},{"g":53,"x":-0.9,"y":104.9},{"g":53,"x":-0.2,"y":106.8},{"g":53,"x":0.5,"y":109.3},{"g":53,"x":1.2,"y":111.3},{"g":53,"x":1.9,"y":113.3},{"g":53,"x":2.6,"y":115.0},{"g":53,"x":3.3,"y":116.9},{"g":53,"x":4.0,"y":119.6},{"g":53,"x":4.7,"y":121.2},{"g":53,"x":5.4,"y":123.7},{"g":53,"x":6.1,"y":125.1},{"g":53,"x":6.8,"y":127.5},
{"g":54,"x":-3.7,"y":96.8},{"g":54,"x":-3.0,"y":98.6},{"g":54,"x":-2.3,"y":100.7},{"g":54,"x":-1.6,"y":102.5},{"g":54,"x":-0.9,"y":104.7},{"g":54,"x":-0.2,"y":106.6},{"g":54,"x":0.5,"y":109.1},{"g":54,"x":1.2,"y":111.1},{"g":54,"x":1.9,"y":113.1},{"g":54,"x":2.6,"y":114.8},{"g":54,"x":3.3,"y":116.7},{"g":54,"x":4.0,"y":119.4},{"g":54,"x":4.7,"y":121.0},{"g":54,"x":5.4,"y":123.4},{"g":54,"x":6.1,"y":124.9},{"g":54,"x":6.8,"y":127.2},
{"g":55,"x":-3.7,"y":97.2},{"g":55,"x":-3.0,"y":99.0},{"g":55,"x":-2.3,"y":101.1},{"g":55,"x":-1.6,"y":102.9},{"g":55,"x":-0.9,"y":105.1},{"g":55,"x":-0.2,"y":107.0},{"g":55,"x":0.5,"y":109.4},{"g":55,"x":1.2,"y":111.5},{"g":55,"x":1.9,"y":113.5},{"g":55,"x":2.6,"y":115.2},{"g":55,"x":3.3,"y":117.1},{"g":55,"x":4.0,"y":119.8},{"g":55,"x":4.7,"y":121.4},{"g":55,"x":5.4,"y":124.0},{"g":55,"x":6.1,"y":125.4},{"g":55,"x":6.8,"y":127.8},
{"g":56,"x":-3.7,"y":96.6},{"g":56,"x":-3.0,"y":98.5},{"g":56,"x":-2.3,"y":100.6},{"g":56,"x":-1.6,"y":102.4},{"g":56,"x":-0.9,"y":104.6},{"g":56,"x":-0.2,"y":106.5},{"g":56,"x":0.5,"y":109.0},{"g":56,"x":1.2,"y":111.0},{"g":56,"x":1.9,"y":113.0},{"g":56,"x":2.6,"y":114.7},{"g":56,"x":3.3,"y":116.6},{"g":56,"x":4.0,"y":119.2},{"g":56,"x":4.7,"y":120.8},{"g":56,"x":5.4,"y":123.1},{"g":56,"x":6.1,"y":124.7},{"g":56,"x":6.8,"y":126.9},
{"g":57,"x":-3.7,"y":96.0},{"g":57,"x":-3.0,"y":97.5},{"g":57,"x":-2.3,"y":99.8},{"g":57,"x":-1.6,"y":101.5},{"g":57,"x":-0.9,"y":104.1},{"g":57,"x":-0.2,"y":106.4},{"g":57,"x":0.5,"y":109.0},{"g":57,"x":1.2,"y":111.5},{"g":57,"x":1.9,"y":114.5},{"g":57,"x":2.6,"y":116.6},{"g":57,"x":3.3,"y":118.5},{"g":57,"x":4.0,"y":121.0},{"g":57,"x":4.7,"y":122.1},{"g":57,"x":5.4,"y":125.1},{"g":57,"x":6.1,"y":125.8},{"g":57,"x":6.8,"y":128.9},
{"g":58,"x":-3.7,"y":96.5},{"g":58,"x":-3.0,"y":98.0},{"g":58,"x":-2.3,"y":100.2},{"g":58,"x":-1.6,"y":101.9},{"g":58,"x":-0.9,"y":104.4},{"g":58,"x":-0.2,"y":106.5},{"g":58,"x":0.5,"y":109.1},{"g":58,"x":1.2,"y":111.4},{"g":58,"x":1.9,"y":114.2},{"g":58,"x":2.6,"y":116.3},{"g":58,"x":3.3,"y":118.2},{"g":58,"x":4.0,"y":120.6},{"g":58,"x":4.7,"y":121.9},{"g":58,"x":5.4,"y":124.6},{"g":58,"x":6.1,"y":125.6},{"g":58,"x":6.8,"y":128.0},
{"g":59,"x":-3.7,"y":97.0},{"g":59,"x":-3.0,"y":98.5},{"g":59,"x":-2.3,"y":100.6},{"g":59,"x":-1.6,"y":102.3},{"g":59,"x":-0.9,"y":104.7},{"g":59,"x":-0.2,"y":106.7},{"g":59,"x":0.5,"y":109.2},{"g":59,"x":1.2,"y":111.3},{"g":59,"x":1.9,"y":113.9},{"g":59,"x":2.6,"y":116.0},{"g":59,"x":3.3,"y":117.9},{"g":59,"x":4.0,"y":120.2},{"g":59,"x":4.7,"y":121.6},{"g":59,"x":5.4,"y":124.2},{"g":59,"x":6.1,"y":125.2},{"g":59,"x":6.8,"y":127.0},
{"g":60,"x":-3.7,"y":97.4},{"g":60,"x":-3.0,"y":98.9},{"g":60,"x":-2.3,"y":100.9},{"g":60,"x":-1.6,"y":102.6},{"g":60,"x":-0.9,"y":104.9},{"g":60,"x":-0.2,"y":106.9},{"g":60,"x":0.5,"y":109.3},{"g":60,"x":1.2,"y":111.2},{"g":60,"x":1.9,"y":113.6},{"g":60,"x":2.6,"y":115.7},{"g":60,"x":3.3,"y":117.6},{"g":60,"x":4.0,"y":119.8},{"g":60,"x":4.7,"y":121.3},{"g":60,"x":5.4,"y":123.8},{"g":60,"x":6.1,"y":124.9},{"g":60,"x":6.8,"y":126.5},
{"g":61,"x":-3.7,"y":96.0},{"g":61,"x":-3.0,"y":97.5},{"g":61,"x":-2.3,"y":99.8},{"g":61,"x":-1.6,"y":101.5},{"g":61,"x":-0.9,"y":104.1},{"g":61,"x":-0.2,"y":106.4},{"g":61,"x":0.5,"y":109.0},{"g":61,"x":1.2,"y":111.5},{"g":61,"x":1.9,"y":114.5},{"g":61,"x":2.6,"y":116.6},{"g":61,"x":3.3,"y":118.5},{"g":61,"x":4.0,"y":121.0},{"g":61,"x":4.7,"y":122.1},{"g":61,"x":5.4,"y":125.1},{"g":61,"x":6.1,"y":125.8},{"g":61,"x":6.8,"y":128.9},
{"g":62,"x":-3.7,"y":96.5},{"g":62,"x":-3.0,"y":98.0},{"g":62,"x":-2.3,"y":100.2},{"g":62,"x":-1.6,"y":101.9},{"g":62,"x":-0.9,"y":104.4},{"g":62,"x":-0.2,"y":106.5},{"g":62,"x":0.5,"y":109.1},{"g":62,"x":1.2,"y":111.4},{"g":62,"x":1.9,"y":114.2},{"g":62,"x":2.6,"y":116.3},{"g":62,"x":3.3,"y":118.2},{"g":62,"x":4.0,"y":120.6},{"g":62,"x":4.7,"y":121.9},{"g":62,"x":5.4,"y":124.6},{"g":62,"x":6.1,"y":125.6},{"g":62,"x":6.8,"y":128.0},
{"g":63,"x":-3.7,"y":97.0},{"g":63,"x":-3.0,"y":98.5},{"g":63,"x":-2.3,"y":100.6},{"g":63,"x":-1.6,"y":102.3},{"g":63,"x":-0.9,"y":104.7},{"g":63,"x":-0.2,"y":106.7},{"g":63,"x":0.5,"y":109.2},{"g":63,"x":1.2,"y":111.3},{"g":63,"x":1.9,"y":113.9},{"g":63,"x":2.6,"y":116.0},{"g":63,"x":3.3,"y":117.9},{"g":63,"x":4.0,"y":120.2},{"g":63,"x":4.7,"y":121.6},{"g":63,"x":5.4,"y":124.2},{"g":63,"x":6.1,"y":125.2},{"g":63,"x":6.8,"y":127.0},
{"g":64,"x":-3.7,"y":97.4},{"g":64,"x":-3.0,"y":98.9},{"g":64,"x":-2.3,"y":100.9},{"g":64,"x":-1.6,"y":102.6},{"g":64,"x":-0.9,"y":104.9},{"g":64,"x":-0.2,"y":106.9},{"g":64,"x":0.5,"y":109.3},{"g":64,"x":1.2,"y":111.2},{"g":64,"x":1.9,"y":113.6},{"g":64,"x":2.6,"y":115.7},{"g":64,"x":3.3,"y":117.6},{"g":64,"x":4.0,"y":119.8},{"g":64,"x":4.7,"y":121.3},{"g":64,"x":5.4,"y":123.8},{"g":64,"x":6.1,"y":124.9},{"g":64,"x":6.8,"y":126.5},
{"g":65,"x":-3.7,"y":94.2},{"g":65,"x":-3.45,"y":93.6},{"g":65,"x":-3.0,"y":95.4},{"g":65,"x":-2.6,"y":96.0},{"g":65,"x":-2.3,"y":96.6},{"g":65,"x":-2.0,"y":98.8},{"g":65,"x":-1.6,"y":99.5},{"g":65,"x":-1.2,"y":101.6},{"g":65,"x":-0.9,"y":103.1},{"g":65,"x":-0.2,"y":105.7},{"g":65,"x":0.5,"y":108.4},{"g":65,"x":1.2,"y":110.6},{"g":65,"x":1.6,"y":113.3},{"g":65,"x":1.9,"y":115.1},{"g":65,"x":2.6,"y":117.7},{"g":65,"x":3.3,"y":120.0},{"g":65,"x":4.0,"y":122.6},{"g":65,"x":4.7,"y":124.7},{"g":65,"x":5.4,"y":126.8},{"g":65,"x":5.7,"y":128.8},{"g":65,"x":6.02,"y":127.5},
{"g":66,"x":-3.7,"y":93.9},{"g":66,"x":-3.45,"y":93.2},{"g":66,"x":-3.0,"y":95.0},{"g":66,"x":-2.6,"y":95.9},{"g":66,"x":-2.3,"y":96.4},{"g":66,"x":-2.0,"y":98.5},{"g":66,"x":-1.6,"y":99.3},{"g":66,"x":-1.2,"y":101.4},{"g":66,"x":-0.9,"y":103.0},{"g":66,"x":-0.2,"y":105.5},{"g":66,"x":0.5,"y":108.3},{"g":66,"x":1.2,"y":110.5},{"g":66,"x":1.6,"y":113.1},{"g":66,"x":1.9,"y":114.9},{"g":66,"x":2.6,"y":117.6},{"g":66,"x":3.3,"y":119.9},{"g":66,"x":4.0,"y":122.5},{"g":66,"x":4.7,"y":124.6},{"g":66,"x":5.4,"y":126.7},{"g":66,"x":5.7,"y":128.6},{"g":66,"x":6.02,"y":127.4},
{"g":67,"x":-3.7,"y":93.3},{"g":67,"x":-3.45,"y":92.6},{"g":67,"x":-3.0,"y":94.7},{"g":67,"x":-2.6,"y":95.5},{"g":67,"x":-2.3,"y":96.0},{"g":67,"x":-2.0,"y":98.2},{"g":67,"x":-1.6,"y":99.0},{"g":67,"x":-1.2,"y":101.2},{"g":67,"x":-0.9,"y":102.8},{"g":67,"x":-0.2,"y":105.4},{"g":67,"x":0.5,"y":108.2},{"g":67,"x":1.2,"y":110.4},{"g":67,"x":1.6,"y":113.0},{"g":67,"x":1.9,"y":114.8},{"g":67,"x":2.6,"y":117.5},{"g":67,"x":3.3,"y":119.8},{"g":67,"x":4.0,"y":122.4},{"g":67,"x":4.7,"y":124.5},{"g":67,"x":5.4,"y":126.5},{"g":67,"x":5.7,"y":128.5},{"g":67,"x":6.02,"y":127.3},
{"g":68,"x":-3.7,"y":93.5},{"g":68,"x":-3.45,"y":92.9},{"g":68,"x":-3.0,"y":94.8},{"g":68,"x":-2.6,"y":95.6},{"g":68,"x":-2.3,"y":96.2},{"g":68,"x":-2.0,"y":98.3},{"g":68,"x":-1.6,"y":99.1},{"g":68,"x":-1.2,"y":101.3},{"g":68,"x":-0.9,"y":102.9},{"g":68,"x":-0.2,"y":105.5},{"g":68,"x":0.5,"y":108.2},{"g":68,"x":1.2,"y":110.5},{"g":68,"x":1.6,"y":113.0},{"g":68,"x":1.9,"y":114.9},{"g":68,"x":2.6,"y":117.5},{"g":68,"x":3.3,"y":119.9},{"g":68,"x":4.0,"y":122.4},{"g":68,"x":4.7,"y":124.5},{"g":68,"x":5.4,"y":126.6},{"g":68,"x":5.7,"y":128.6},{"g":68,"x":6.02,"y":127.4},
{"g":69,"x":-3.7,"y":97.9},{"g":69,"x":-3.0,"y":100.0},{"g":69,"x":-2.3,"y":102.1},{"g":69,"x":-1.6,"y":103.9},{"g":69,"x":-0.9,"y":105.9},{"g":69,"x":-0.2,"y":107.6},{"g":69,"x":0.5,"y":109.5},{"g":69,"x":1.2,"y":111.0},{"g":69,"x":1.9,"y":112.9},{"g":69,"x":2.6,"y":114.5},{"g":69,"x":3.3,"y":116.5},{"g":69,"x":4.0,"y":118.6},{"g":69,"x":4.7,"y":119.6},{"g":69,"x":5.4,"y":121.9},{"g":69,"x":6.1,"y":123.5},{"g":69,"x":6.8,"y":126.1},
{"g":70,"x":-3.7,"y":97.6},{"g":70,"x":-3.0,"y":99.8},{"g":70,"x":-2.3,"y":101.9},{"g":70,"x":-1.6,"y":103.8},{"g":70,"x":-0.9,"y":105.8},{"g":70,"x":-0.2,"y":107.5},{"g":70,"x":0.5,"y":109.4},{"g":70,"x":1.2,"y":110.9},{"g":70,"x":1.9,"y":112.8},{"g":70,"x":2.6,"y":114.4},{"g":70,"x":3.3,"y":116.4},{"g":70,"x":4.0,"y":118.5},{"g":70,"x":4.7,"y":119.5},{"g":70,"x":5.4,"y":121.8},{"g":70,"x":6.1,"y":123.4},{"g":70,"x":6.8,"y":125.9},
{"g":71,"x":-3.7,"y":98.2},{"g":71,"x":-3.0,"y":100.2},{"g":71,"x":-2.3,"y":102.3},{"g":71,"x":-1.6,"y":104.1},{"g":71,"x":-0.9,"y":106.0},{"g":71,"x":-0.2,"y":107.7},{"g":71,"x":0.5,"y":109.6},{"g":71,"x":1.2,"y":111.1},{"g":71,"x":1.9,"y":113.0},{"g":71,"x":2.6,"y":114.6},{"g":71,"x":3.3,"y":116.6},{"g":71,"x":4.0,"y":118.7},{"g":71,"x":4.7,"y":119.7},{"g":71,"x":5.4,"y":122.0},{"g":71,"x":6.1,"y":123.6},{"g":71,"x":6.8,"y":125.7},
{"g":72,"x":-3.7,"y":97.7},{"g":72,"x":-3.0,"y":99.9},{"g":72,"x":-2.3,"y":102.0},{"g":72,"x":-1.6,"y":103.8},{"g":72,"x":-0.9,"y":105.8},{"g":72,"x":-0.2,"y":107.5},{"g":72,"x":0.5,"y":109.5},{"g":72,"x":1.2,"y":111.0},{"g":72,"x":1.9,"y":112.9},{"g":72,"x":2.6,"y":114.5},{"g":72,"x":3.3,"y":116.5},{"g":72,"x":4.0,"y":118.6},{"g":72,"x":4.7,"y":119.6},{"g":72,"x":5.4,"y":121.8},{"g":72,"x":6.1,"y":123.4},{"g":72,"x":6.8,"y":125.5}
]
},
"data":{"name":"pts"},
"transform":[{"lookup":"g","from":{"data":{"name":"grp"},"key":"g","fields":["s","m","d","w"]}}],
"spacing":58,
"facet":{"column":{"field":"s","type":"ordinal","header":{"title":null,"labelExpr":"'Scenario ' + datum.value","labelFont":"Liberation Sans","labelFontSize":80,"labelColor":"black","labelAnchor":"start","labelAlign":"left","labelBaseline":"alphabetic","labelPadding":-23}}},
"spec":{
"width":1161,"height":1618,
"mark":{"type":"line","strokeJoin":"round","clip":true},
"encoding":{
"x":{"field":"x","type":"quantitative","title":"x₁","scale":{"domain":[-4.55,7.55],"nice":false,"zero":false},
"axis":{"values":[-4.5,-3,-1.5,0,1.5,3,4.5,6,7.5],"labelExpr":"datum.value % 3 === 0 ? '' + datum.value : ''","gridWidth":{"condition":{"test":"datum.value % 3 === 0","value":5.5},"value":3}}},
"y":{"field":"y","type":"quantitative","title":"μ̂(x₁, x₂, d)","scale":{"domain":[88,132],"nice":false,"zero":false},
"axis":{"values":[90,100,110,120,130],"labelExpr":"datum.value % 20 === 10 ? '$' + datum.value : ''","gridWidth":{"condition":{"test":"datum.value % 20 === 10","value":7},"value":3.8}}},
"color":{"field":"m","type":"nominal","title":"μ","scale":{"domain":["A","H","C"],"range":["#C0BB45","#6DA862","#2B6190"]},
"legend":{"orient":"none","legendX":3638,"legendY":484.5,"labelExpr":"datum.value == 'A' ? 'μ̂ᴬ' : datum.value == 'H' ? 'μ̂ᴴ' : 'μ̂ᶜ'","symbolType":"stroke","symbolSize":5625,"symbolStrokeWidth":7.7}},
"opacity":{"field":"d","type":"ordinal","title":"d","scale":{"domain":[0,1],"range":[0.35,0.7]},
"legend":{"orient":"none","legendX":3638,"legendY":-15.5,"symbolType":"stroke","symbolSize":5625,"symbolStrokeWidth":7.7,"symbolStrokeColor":"black","encode":{"symbols":{"update":{"strokeDash":{"signal":"datum.value == 1 ? [17,12] : [1,0]"}}}}}},
"strokeWidth":{"field":"w","type":"ordinal","title":"x₂","scale":{"domain":[1,2,3,4],"range":[19.5,14,11.5,8]},
"legend":{"orient":"none","legendX":3638,"legendY":1105.5,"symbolType":"stroke","symbolSize":5625,"symbolStrokeColor":"black"}},
"strokeDash":{"condition":[
{"test":"datum.d === 1 && datum.w === 1","value":[58,39]},
{"test":"datum.d === 1 && datum.w === 2","value":[42,28]},
{"test":"datum.d === 1 && datum.w === 3","value":[35,23]},
{"test":"datum.d === 1 && datum.w === 4","value":[24,16]}],"value":[1,0]}
}
},
"config":{
"font":"Liberation Sans",
"view":{"stroke":null},
"axis":{"domain":false,"ticks":false,"tickSize":0,"gridColor":"#EBEBEB","labelFont":"Liberation Sans","labelFontSize":53,"labelColor":"#4D4D4D","titleFont":"Liberation Sans","titleFontSize":66,"titleFontWeight":"normal","titleColor":"black","labelOverlap":false,"labelFlush":false,"labelBound":false},
"axisX":{"labelPadding":40,"titlePadding":8},
"axisY":{"labelPadding":22,"titlePadding":12},
"legend":{"titleFont":"Liberation Sans","titleFontSize":66,"titleFontWeight":"normal","titleColor":"black","labelFont":"Liberation Sans","labelFontSize":53,"labelColor":"black","labelOffset":39,"symbolOffset":8,"rowPadding":45,"titlePadding":67,"padding":0}
}
}
